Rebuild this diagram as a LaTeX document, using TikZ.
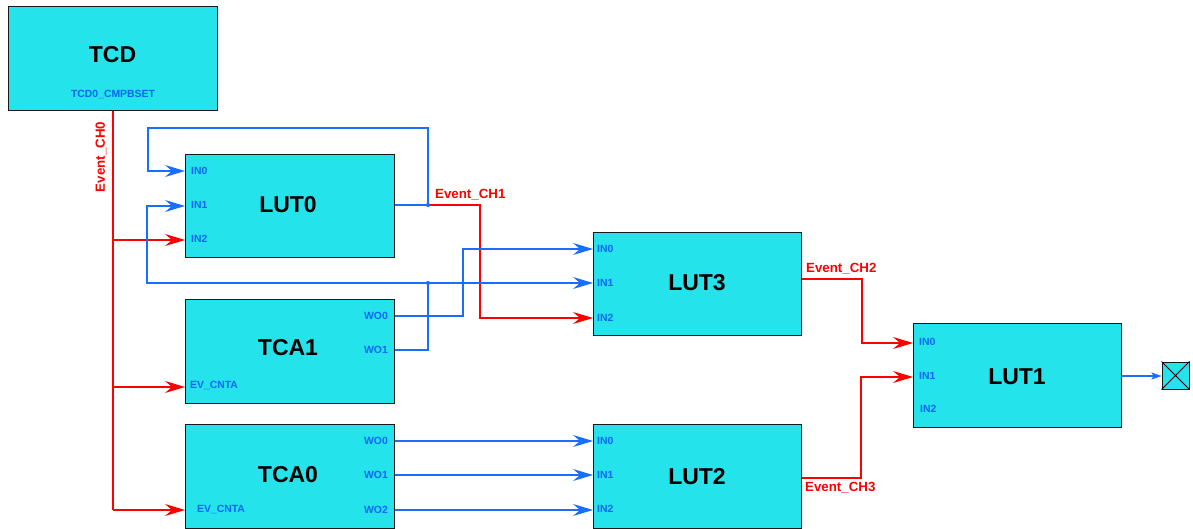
\documentclass[tikz,border=0pt]{standalone}
\usepackage{fontspec}
\setmainfont{Liberation Sans}
\usetikzlibrary{arrows.meta,calc}
\definecolor{boxfill}{HTML}{24E3EB}
\definecolor{wireblue}{HTML}{1A6EFF}
\definecolor{textblue}{HTML}{0A66F5}
\definecolor{wirered}{HTML}{FF0000}
\tikzset{
  blk/.style={draw=black!90, line width=1.1pt, fill=boxfill, anchor=north west, minimum width=209pt, minimum height=104pt, inner sep=0pt},
  title/.style={font=\bfseries\fontsize{23}{25}\selectfont, text=black},
  port/.style={font=\bfseries\fontsize{10.4}{12}\selectfont, text=textblue, inner sep=0pt},
  evlbl/.style={font=\bfseries\fontsize{13.3}{15}\selectfont, text=wirered, inner sep=0pt},
  bline/.style={draw=wireblue, line width=1.3pt},
  rline/.style={draw=wirered, line width=1.3pt},
  barr/.style={bline, -{Stealth[length=20pt,width=12pt,inset=7pt]}},
  rarr/.style={rline, -{Stealth[length=20pt,width=12pt,inset=7pt]}},
  dot/.style={circle, fill=wireblue, inner sep=0pt, minimum size=4.2pt},
}
\begin{document}
\begin{tikzpicture}[x=1pt,y=-1pt]
\useasboundingbox (0,0) rectangle (1193,529);
% blocks
\node[blk, minimum height=104pt] (tcd) at (8,6) {};
\node[title] (tcdt) at (112.5,55) {TCD};
\node[port] (tcdp) at (113,95) {TCD0\_CMPBSET};

\node[blk, minimum height=103pt] (lut0) at (185,154) {};
\node[title] (lut0t) at (288,205) {LUT0};
\node[port, anchor=west] (lut0i0) at (191,171) {IN0};
\node[port, anchor=west] (lut0i1) at (191,205) {IN1};
\node[port, anchor=west] (lut0i2) at (191,239) {IN2};

\node[blk] (tca1) at (185,299) {};
\node[title] (tca1t) at (288,348) {TCA1};
\node[port, anchor=east] (tca1w0) at (388,316) {WO0};
\node[port, anchor=east] (tca1w1) at (388,350) {WO1};
\node[port, anchor=west] (tca1ev) at (190,386) {EV\_CNTA};

\node[blk] (tca0) at (185,424) {};
\node[title] (tca0t) at (288,475) {TCA0};
\node[port, anchor=east] (tca0w0) at (388,441) {WO0};
\node[port, anchor=east] (tca0w1) at (388,475) {WO1};
\node[port, anchor=east] (tca0w2) at (388,510) {WO2};
\node[port, anchor=west] (tca0ev) at (197,510) {EV\_CNTA};

\node[blk, minimum width=208pt, minimum height=103pt] (lut3) at (593,232) {};
\node[title] (lut3t) at (697,283) {LUT3};
\node[port, anchor=west] (lut3i0) at (597,249) {IN0};
\node[port, anchor=west] (lut3i1) at (597,283) {IN1};
\node[port, anchor=west] (lut3i2) at (597,318) {IN2};

\node[blk, minimum width=208pt] (lut2) at (593,424) {};
\node[title] (lut2t) at (697,477) {LUT2};
\node[port, anchor=west] (lut2i0) at (597,441) {IN0};
\node[port, anchor=west] (lut2i1) at (597,475) {IN1};
\node[port, anchor=west] (lut2i2) at (597,509) {IN2};

\node[blk, minimum width=208pt] (lut1) at (913,323) {};
\node[title] (lut1t) at (1017,377) {LUT1};
\node[port, anchor=west] (lut1i0) at (919,342) {IN0};
\node[port, anchor=west] (lut1i1) at (919,376) {IN1};
\node[port, anchor=west] (lut1i2) at (920,409) {IN2};

\node[draw=black!90, line width=1pt, fill=boxfill, minimum size=27pt, inner sep=0pt] (outb) at (1175.5,375.5) {};
\draw[black, line width=0.9pt] (outb.north west) -- (outb.south east) (outb.north east) -- (outb.south west);

% Event_CH0
\coordinate (c0a) at (tcd.south |- 0,240);
\coordinate (c0b) at (tcd.south |- 0,387);
\coordinate (c0c) at (tcd.south |- 0,510);
\draw[rline] (tcd.south) -- (c0c);
\draw[rarr] (c0a) -- (lut0.west |- c0a);
\draw[rarr] (c0b) -- (tca1.west |- c0b);
\draw[rarr] (c0c) -- (tca0.west |- c0c);
\node[evlbl, rotate=90] (e0) at (101,157) {Event\_CH0};

% LUT0 output and feedback
\coordinate (j1) at (428,205);
\draw[bline] (lut0.east |- j1) -- (j1);
\draw[barr] (j1) -- (428,128) -- (148,128) -- (148,171) -- (lut0.west |- 0,171);
\draw[rarr] (j1) -- (480,205) -- (480,318) -- (lut3.west |- 0,318);
\node[evlbl, anchor=south west] (e1) at (435,200) {Event\_CH1};

% TCA1 WO1
\coordinate (j2) at (428,283);
\draw[bline] (tca1.east |- 0,350) -- (428,350) -- (j2);
\draw[barr] (j2) -- (lut3.west |- j2);
\draw[barr] (j2) -- (147,283) -- (147,206) -- (lut0.west |- 0,206);

% TCA1 WO0
\draw[barr] (tca1.east |- 0,316) -- (463,316) -- (463,249) -- (lut3.west |- 0,249);

% TCA0 -> LUT2
\draw[barr] (tca0.east |- 0,441) -- (lut2.west |- 0,441);
\draw[barr] (tca0.east |- 0,475) -- (lut2.west |- 0,475);
\draw[barr] (tca0.east |- 0,510) -- (lut2.west |- 0,510);

% Event_CH2 / CH3
\draw[rarr] (lut3.east |- 0,279) -- (862,279) -- (862,343) -- (lut1.west |- 0,343);
\node[evlbl, anchor=south west] (e2) at (806,274) {Event\_CH2};
\draw[rarr] (lut2.east |- 0,478) -- (861,478) -- (861,377) -- (lut1.west |- 0,377);
\node[evlbl, anchor=north west] (e3) at (805,482) {Event\_CH3};

% LUT1 output
\draw[bline, -{Stealth[length=10pt,width=7pt,inset=2pt]}] (lut1.east |- 0,376) -- (outb.west |- 0,376);

% junction dots
\node[dot] (d1) at (j1) {};
\node[dot] (d2) at (j2) {};
\end{tikzpicture}
\end{document}
